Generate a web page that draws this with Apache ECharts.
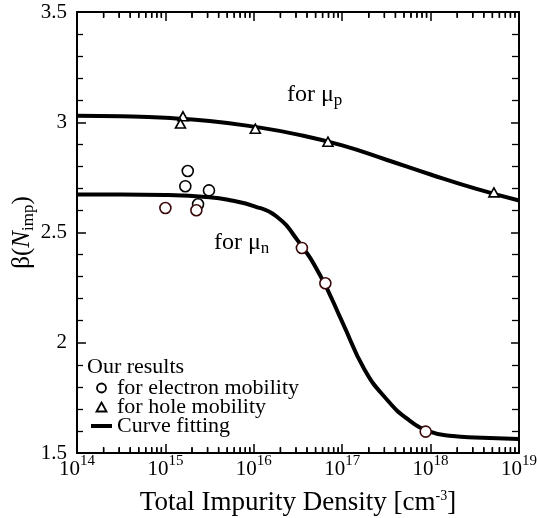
<!DOCTYPE html>
<html><head><meta charset="utf-8">
<script src="https://cdn.jsdelivr.net/npm/echarts@6/dist/echarts.min.js"></script>
<style>html,body{margin:0;padding:0;background:#fff}#c{width:537px;height:518px}</style>
</head><body><div id="c"></div>
<script>
// ---- data ----
const xTickExps = ['14', '15', '16', '17', '18', '19'];
const xMinorMults = [2, 3, 4, 5, 6, 7, 8, 9];
const yMin = 1.5, yMax = 3.5;
// electron mobility points (black outline)
const elecAX = [1.79e15, 1.68e15, 3.11e15, 2.34e15];
const elecAY = [2.779, 2.710, 2.691, 2.628];
// electron mobility points (dark red outline)
const elecBX = [1.0e15, 2.24e15, 3.5e16, 6.45e16, 8.8e17];
const elecBY = [2.611, 2.601, 2.430, 2.270, 1.597];
// hole mobility points
const holeX = [1.58e15, 1.48e15, 1.04e16, 6.9e16, 5.2e18];
const holeY = [3.027, 2.994, 2.971, 2.912, 2.682];
// fitted curve for mu_n
const fitNX = [1e14, 3.16e14, 1e15, 3.16e15, 5.62e15, 1e16, 1.78e16, 3.16e16, 5.62e16, 1e17, 1.78e17, 3.16e17, 5.62e17, 1e18, 1.78e18, 3.16e18, 1e19];
const fitNY = [2.672, 2.672, 2.670, 2.660, 2.645, 2.620, 2.575, 2.462, 2.306, 2.095, 1.880, 1.745, 1.651, 1.596, 1.577, 1.570, 1.564];
// fitted curve for mu_p
const fitPX = [1e14, 3.16e14, 1e15, 3.16e15, 1e16, 3.16e16, 1e17, 3.16e17, 1e18, 3.16e18, 1e19];
const fitPY = [3.030, 3.027, 3.020, 3.006, 2.980, 2.944, 2.895, 2.830, 2.763, 2.700, 2.645];

const zip = (xs, ys) => xs.map((x, i) => [x, ys[i]]);
const FONT = 'Liberation Serif';

// minor tick values of the log axis: m x 10^k
const minorTickVals = [];
xTickExps.slice(0, -1).forEach(e => {
  xMinorMults.forEach(m => minorTickVals.push(m * Math.pow(10, Number(e))));
});

const chart = echarts.init(document.getElementById('c'), null, {renderer: 'canvas'});

const xBase = {
  type: 'log', logBase: 10, min: 1e14, max: 1e19,
  splitLine: {show: false},
  axisLine: {show: true, lineStyle: {color: '#000', width: 2}}
};

const labelGraphics = [
  {type: 'text', left: 87, top: 356, style: {text: 'Our results', fontFamily: FONT, fontSize: 22, fill: '#000'}},
  {type: 'text', left: 287, top: 83, style: {
    text: '{t|for μ}{s|p}', fill: '#000',
    rich: {t: {fontFamily: FONT, fontSize: 24, lineHeight: 28, verticalAlign: 'middle'},
           s: {fontFamily: FONT, fontSize: 17, lineHeight: 15, verticalAlign: 'bottom'}}}},
  {type: 'text', left: 214, top: 231, style: {
    text: '{t|for μ}{s|n}', fill: '#000',
    rich: {t: {fontFamily: FONT, fontSize: 24, lineHeight: 28, verticalAlign: 'middle'},
           s: {fontFamily: FONT, fontSize: 17, lineHeight: 15, verticalAlign: 'bottom'}}}}
];

// minor log ticks as thin bars, positioned by the log axis itself
const tickSeries = (yv, off) => ({
  name: 'Curve fitting', type: 'scatter', xAxisIndex: 0, yAxisIndex: 0, silent: true,
  data: minorTickVals.map(v => [v, yv]), symbol: 'rect', symbolSize: [1.5, 6], symbolOffset: [0, off],
  itemStyle: {color: '#000', opacity: 1}, z: 3, clip: false, legendHoverLink: false
});

const option = {
  backgroundColor: '#fff',
  animation: false,
  grid: {left: 77, right: 18, top: 12, bottom: 65, containLabel: false, outerBoundsMode: 'none'},
  xAxis: [
    Object.assign({}, xBase, {
      position: 'bottom',
      name: 'Total Impurity Density [cm{sup|-3}]',
      nameLocation: 'middle', nameGap: 36,
      nameTextStyle: {fontFamily: FONT, fontSize: 27, color: '#000',
        rich: {sup: {fontFamily: FONT, fontSize: 14, verticalAlign: 'top', lineHeight: 14, color: '#000'}}},
      axisTick: {show: true, inside: true, length: 9, lineStyle: {color: '#000', width: 1.5}},
      axisLabel: {
        show: true, margin: 1, color: '#000',
        formatter: (v, i) => '{b|10}{s|' + xTickExps[i] + '}',
        rich: {
          b: {fontFamily: FONT, fontSize: 21, lineHeight: 26, verticalAlign: 'bottom', color: '#000'},
          s: {fontFamily: FONT, fontSize: 15, lineHeight: 15, verticalAlign: 'top', color: '#000'}
        }
      }
    }),
    Object.assign({}, xBase, {
      position: 'top',
      axisTick: {show: true, inside: true, length: 9, lineStyle: {color: '#000', width: 1.5}},
      axisLabel: {show: false}
    })
  ],
  yAxis: [
    {
      type: 'value', min: yMin, max: yMax, interval: 0.5, position: 'left',
      name: '{t|β(}{i|N}{sub|imp}{t|)}',
      nameLocation: 'middle', nameGap: 40, nameRotate: 90, nameMoveOverlap: false,
      nameTextStyle: {
        rich: {
          t: {fontFamily: FONT, fontSize: 25, lineHeight: 30, verticalAlign: 'middle', color: '#000'},
          i: {fontFamily: FONT, fontSize: 25, fontStyle: 'italic', lineHeight: 30, verticalAlign: 'middle', color: '#000'},
          sub: {fontFamily: FONT, fontSize: 17, lineHeight: 15, verticalAlign: 'bottom', color: '#000'}
        }
      },
      splitLine: {show: false},
      axisLine: {show: true, lineStyle: {color: '#000', width: 2}},
      axisTick: {show: true, inside: true, length: 9, lineStyle: {color: '#000', width: 1.5}},
      minorTick: {show: true, splitNumber: 5, length: 6, lineStyle: {color: '#000', width: 1.3}},
      axisLabel: {show: true, margin: 10, fontFamily: FONT, fontSize: 21, color: '#000'}
    },
    {
      type: 'value', min: yMin, max: yMax, interval: 0.5, position: 'right',
      splitLine: {show: false},
      axisLine: {show: true, lineStyle: {color: '#000', width: 2}},
      axisTick: {show: true, inside: true, length: 8, lineStyle: {color: '#000', width: 1.5}},
      minorTick: {show: true, splitNumber: 5, length: 7, lineStyle: {color: '#000', width: 1.3}},
      axisLabel: {show: false}
    }
  ],
  legend: {
    orient: 'vertical', left: 86, top: 372,
    itemWidth: 21, itemHeight: 9, itemGap: -3,
    symbolKeepAspect: true,
    textStyle: {fontFamily: FONT, fontSize: 22, color: '#000'},
    data: [
      {name: 'for electron mobility', icon: 'circle', itemStyle: {color: '#fff', borderColor: '#000', borderWidth: 1.8}},
      {name: 'for hole mobility', icon: 'path://M5,0L10,9L0,9Z', itemStyle: {color: '#fff', borderColor: '#000', borderWidth: 1.8}},
      {name: 'Curve fitting', icon: 'path://M0,0H21V4H0Z', itemStyle: {color: '#000', borderWidth: 0}}
    ],
    selectedMode: false
  },
  graphic: labelGraphics,
  series: [
    {name: 'Curve fitting', type: 'line', xAxisIndex: 0, yAxisIndex: 0, data: zip(fitNX, fitNY),
      smooth: 0.5, showSymbol: false, symbol: 'none',
      lineStyle: {color: '#000', width: 4}, itemStyle: {color: '#000'}, z: 2},
    {name: 'Curve fitting', type: 'line', xAxisIndex: 0, yAxisIndex: 0, data: zip(fitPX, fitPY),
      smooth: 0.5, showSymbol: false, symbol: 'none',
      lineStyle: {color: '#000', width: 4}, itemStyle: {color: '#000'}, z: 2},
    tickSeries(yMin, -3),
    tickSeries(yMax, 3),
    {name: 'for electron mobility', type: 'scatter', xAxisIndex: 0, yAxisIndex: 0, data: zip(elecAX, elecAY),
      symbol: 'circle', symbolSize: 11,
      itemStyle: {color: '#fff', borderColor: '#000', borderWidth: 1.6, opacity: 1}, z: 5},
    {name: 'for electron mobility', type: 'scatter', xAxisIndex: 0, yAxisIndex: 0, data: zip(elecBX, elecBY),
      symbol: 'circle', symbolSize: 11,
      itemStyle: {color: '#fff', borderColor: '#3a0a0a', borderWidth: 1.6, opacity: 1}, z: 5},
    {name: 'for hole mobility', type: 'scatter', xAxisIndex: 0, yAxisIndex: 0, data: zip(holeX, holeY),
      symbol: 'triangle', symbolSize: [10, 9],
      itemStyle: {color: '#fff', borderColor: '#000', borderWidth: 1.6, opacity: 1}, z: 5}
  ]
};
chart.setOption(option);

// same minor ticks again via the grid's data-to-pixel conversion
try {
  const tickEls = [];
  minorTickVals.forEach(v => {
    const pb = chart.convertToPixel({gridIndex: 0}, [v, yMin]);
    const pt = chart.convertToPixel({gridIndex: 0}, [v, yMax]);
    if (!pb || !pt) return;
    const x = Number(pb[0]), y0 = Number(pb[1]), y1 = Number(pt[1]);
    if (!isFinite(x) || !isFinite(y0) || !isFinite(y1)) return;
    tickEls.push({type: 'line', silent: true, z: 10,
      shape: {x1: x, y1: y0, x2: x, y2: y0 - 5}, style: {stroke: '#000', lineWidth: 1.3}});
    tickEls.push({type: 'line', silent: true, z: 10,
      shape: {x1: x, y1: y1, x2: x, y2: y1 + 5}, style: {stroke: '#000', lineWidth: 1.3}});
  });
  chart.setOption({graphic: labelGraphics.concat(tickEls)});
} catch (e) { console.error(e); }
</script>
</body></html>
